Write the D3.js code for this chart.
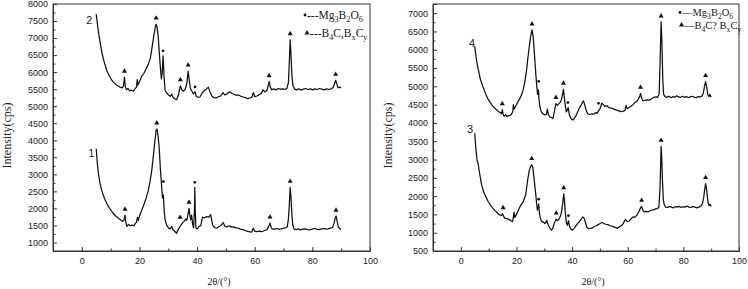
<!DOCTYPE html>
<html>
<head>
<meta charset="utf-8">
<script src="https://cdn.jsdelivr.net/npm/d3@7"></script>
<style>
  body { margin: 0; background: #fff; }
  svg { display: block; }
</style>
</head>
<body>
<div id="chart"></div>
<script>
// tick values
const xTicks = [0, 20, 40, 60, 80, 100];
const xMinorTicks = [-10, 10, 30, 50, 70, 90];
const yTicksLeft = [1000, 1500, 2000, 2500, 3000, 3500, 4000, 4500, 5000, 5500, 6000, 6500, 7000, 7500, 8000];
const yTicksRight = [500, 1000, 1500, 2000, 2500, 3000, 3500, 4000, 4500, 5000, 5500, 6000, 6500, 7000];

// left panel, upper curve (2)
const curve2 = [[5.0,7700],[5.5,7350],[6.0,7050],[6.5,6800],[7.0,6560],[7.5,6380],[8.0,6230],[8.7,6040],[9.5,5900],[10.2,5790],[11.0,5700],[11.8,5640],[12.5,5600],[13.3,5560],[14.0,5540],[14.4,5580],[14.8,5850],[15.1,5560],[15.5,5480],[16.0,5520],[16.6,5450],[17.2,5470],[17.9,5440],[18.5,5520],[19.0,5560],[19.2,5780],[19.5,5620],[20.2,5760],[20.8,5880],[21.5,5960],[22.2,6080],[23.0,6220],[23.8,6420],[24.5,6800],[25.0,7080],[25.5,7330],[25.8,7410],[26.1,7320],[26.5,7050],[26.9,6550],[27.3,6100],[27.6,5800],[27.9,6000],[28.2,6480],[28.5,5900],[28.9,5460],[29.5,5380],[30.1,5330],[30.7,5290],[31.2,5350],[31.6,5270],[32.2,5220],[32.9,5190],[33.5,5320],[34.2,5600],[34.7,5480],[35.2,5440],[35.8,5480],[36.4,5650],[36.9,6030],[37.3,5750],[37.7,5520],[38.2,5440],[38.7,5360],[39.3,5420],[39.7,5300],[40.3,5260],[41.0,5270],[41.7,5380],[42.5,5460],[43.2,5500],[43.9,5560],[44.5,5420],[45.1,5300],[45.8,5250],[46.6,5240],[47.4,5280],[48.2,5300],[49.0,5400],[49.6,5330],[50.4,5360],[51.2,5420],[52.0,5380],[52.8,5350],[53.6,5320],[54.4,5330],[55.2,5290],[56.0,5270],[56.8,5250],[57.6,5220],[58.3,5240],[59.0,5260],[59.5,5400],[60.0,5280],[60.8,5300],[61.6,5340],[62.3,5380],[62.9,5480],[63.5,5420],[64.2,5460],[64.7,5620],[65.0,5720],[65.4,5560],[65.9,5480],[66.6,5510],[67.4,5480],[68.2,5520],[69.0,5500],[69.8,5510],[70.5,5490],[71.2,5530],[71.7,5700],[72.0,6300],[72.3,6950],[72.6,6500],[72.9,5900],[73.3,5600],[73.8,5510],[74.5,5480],[75.3,5510],[76.1,5470],[76.9,5500],[77.7,5520],[78.5,5490],[79.3,5510],[80.1,5480],[80.9,5510],[81.7,5490],[82.5,5520],[83.3,5500],[84.1,5480],[84.9,5510],[85.7,5490],[86.5,5510],[87.2,5550],[87.7,5660],[88.1,5760],[88.5,5650],[88.9,5540],[89.4,5560],[90.0,5540]];

// left panel, lower curve (1)
const curve1 = [[5.0,3750],[5.4,3300],[5.8,3000],[6.3,2750],[6.8,2560],[7.4,2400],[8.1,2250],[8.8,2120],[9.6,2010],[10.4,1910],[11.2,1830],[12.0,1760],[12.7,1710],[13.5,1660],[14.2,1620],[14.6,1650],[15.0,1800],[15.3,1580],[15.6,1470],[16.2,1530],[16.8,1490],[17.4,1510],[18.0,1490],[18.6,1560],[19.0,1600],[19.3,1740],[19.6,1650],[20.2,1820],[20.8,1950],[21.5,2100],[22.3,2300],[23.0,2500],[23.7,2800],[24.3,3140],[24.9,3600],[25.4,4020],[25.8,4300],[26.1,4330],[26.5,4100],[26.9,3720],[27.3,3100],[27.7,2640],[28.0,2300],[28.3,2400],[28.6,1900],[28.9,1670],[29.5,1500],[30.1,1420],[30.6,1400],[31.2,1470],[31.6,1380],[32.2,1330],[32.9,1270],[33.4,1380],[34.1,1470],[34.8,1560],[35.5,1620],[36.0,1690],[36.4,1650],[36.8,1800],[37.2,2000],[37.5,1800],[37.8,1660],[38.1,1800],[38.5,1520],[38.8,1430],[39.1,2000],[39.2,2620],[39.35,2000],[39.6,1420],[40.1,1400],[40.7,1470],[41.3,1500],[41.9,1750],[42.5,1720],[43.3,1760],[44.0,1740],[44.7,1820],[45.1,1650],[45.4,1510],[46.1,1440],[46.8,1420],[47.5,1460],[48.3,1500],[49.1,1580],[49.6,1480],[50.3,1460],[51.1,1490],[51.9,1450],[52.6,1460],[53.4,1430],[54.2,1420],[54.9,1400],[55.7,1380],[56.5,1360],[57.2,1330],[58.0,1320],[58.9,1300],[59.5,1420],[60.0,1330],[60.8,1320],[61.6,1330],[62.3,1320],[62.9,1330],[63.6,1360],[64.3,1380],[64.9,1480],[65.3,1570],[65.7,1440],[66.1,1390],[66.9,1390],[67.7,1410],[68.5,1390],[69.3,1400],[70.1,1420],[70.8,1430],[71.3,1460],[71.7,1700],[72.0,2100],[72.3,2620],[72.6,2300],[72.9,1800],[73.2,1520],[73.6,1400],[74.3,1380],[75.1,1400],[75.9,1370],[76.7,1390],[77.5,1400],[78.3,1380],[79.1,1370],[79.9,1390],[80.7,1410],[81.5,1390],[82.3,1380],[83.1,1400],[83.9,1410],[84.7,1390],[85.5,1400],[86.3,1420],[87.0,1440],[87.5,1560],[88.0,1740],[88.3,1770],[88.6,1620],[89.0,1460],[89.5,1410],[90.0,1380]];

// right panel, upper curve (4)
const curve4 = [[5.0,6100],[5.5,5780],[6.0,5560],[6.5,5380],[7.0,5200],[7.6,5060],[8.2,4940],[8.9,4800],[9.6,4680],[10.3,4590],[11.0,4510],[11.7,4440],[12.4,4390],[13.1,4340],[13.7,4300],[14.3,4280],[14.6,4250],[14.9,4360],[15.2,4240],[15.6,4180],[16.1,4230],[16.6,4170],[17.2,4200],[17.8,4210],[18.3,4250],[18.7,4320],[18.9,4500],[19.2,4380],[19.8,4470],[20.4,4560],[21.1,4650],[21.8,4760],[22.4,4900],[23.0,5120],[23.6,5420],[24.1,5770],[24.6,6080],[25.1,6360],[25.6,6540],[26.0,6380],[26.4,5950],[26.9,5400],[27.3,5000],[27.6,4780],[27.9,4900],[28.1,4650],[28.4,4450],[28.9,4300],[29.5,4250],[30.1,4220],[30.7,4230],[31.1,4380],[31.5,4220],[32.0,4170],[32.6,4140],[33.1,4120],[33.6,4300],[34.2,4530],[34.7,4480],[35.2,4520],[35.7,4560],[36.2,4650],[36.6,4800],[36.9,4920],[37.2,4700],[37.5,4500],[37.9,4300],[38.3,4350],[38.6,4420],[39.0,4230],[39.6,4120],[40.2,4080],[40.8,4120],[41.4,4200],[42.0,4300],[42.6,4400],[43.2,4480],[43.7,4560],[44.1,4600],[44.6,4480],[45.0,4360],[45.6,4250],[46.3,4230],[47.0,4250],[47.7,4240],[48.4,4280],[49.0,4260],[49.5,4330],[50.1,4400],[50.7,4540],[51.2,4500],[51.8,4450],[52.5,4470],[53.2,4420],[53.9,4410],[54.6,4390],[55.3,4370],[56.0,4350],[56.8,4330],[57.6,4310],[58.4,4320],[59.0,4340],[59.4,4480],[59.8,4390],[60.5,4420],[61.2,4460],[61.9,4500],[62.6,4560],[63.2,4580],[63.8,4650],[64.3,4720],[64.6,4810],[65.0,4680],[65.5,4600],[66.2,4620],[67.0,4630],[67.8,4620],[68.6,4660],[69.4,4700],[70.2,4710],[70.8,4700],[71.3,4800],[71.7,5850],[72.0,6760],[72.3,6200],[72.6,5200],[72.9,4780],[73.4,4720],[74.1,4700],[74.8,4730],[75.5,4690],[76.2,4720],[76.9,4700],[77.6,4740],[78.3,4710],[79.0,4700],[79.7,4730],[80.4,4700],[81.1,4720],[81.8,4690],[82.5,4710],[83.2,4730],[83.9,4700],[84.6,4690],[85.3,4720],[86.0,4710],[86.7,4740],[87.2,4820],[87.6,5000],[88.0,5130],[88.4,4980],[88.8,4770],[89.2,4720],[89.5,4780],[90.0,4700]];

// right panel, lower curve (3)
const curve3 = [[5.0,3720],[5.4,3300],[5.8,3000],[6.3,2850],[6.9,2550],[7.5,2300],[8.2,2120],[9.0,1980],[9.8,1860],[10.6,1760],[11.4,1680],[12.2,1610],[12.9,1560],[13.5,1510],[14.1,1480],[14.6,1470],[15.0,1520],[15.3,1460],[15.8,1400],[16.4,1390],[17.0,1370],[17.6,1350],[18.2,1320],[18.6,1300],[18.9,1420],[19.1,1560],[19.4,1420],[20.0,1500],[20.6,1600],[21.2,1700],[21.8,1780],[22.4,1840],[22.9,1950],[23.3,2030],[23.7,2250],[24.1,2480],[24.6,2700],[25.0,2800],[25.5,2860],[25.9,2780],[26.3,2500],[26.8,2150],[27.2,1850],[27.5,1620],[27.8,1700],[28.0,1780],[28.2,1580],[28.5,1420],[29.0,1310],[29.6,1290],[30.2,1250],[30.6,1280],[30.9,1340],[31.2,1250],[31.8,1150],[32.3,1100],[32.6,1070],[33.0,1110],[33.6,1250],[34.2,1370],[34.6,1330],[35.1,1350],[35.6,1420],[36.1,1520],[36.6,1780],[37.0,2060],[37.3,1850],[37.6,1500],[38.0,1250],[38.3,1200],[38.7,1330],[39.0,1200],[39.5,1100],[40.1,1070],[40.7,1120],[41.3,1180],[42.0,1250],[42.6,1300],[43.2,1360],[43.8,1430],[44.3,1400],[44.8,1280],[45.3,1150],[45.9,1110],[46.6,1120],[47.3,1130],[48.0,1170],[48.7,1190],[49.4,1220],[50.1,1250],[50.8,1280],[51.5,1250],[52.2,1230],[52.9,1220],[53.6,1190],[54.3,1180],[55.0,1160],[55.7,1140],[56.3,1120],[57.0,1160],[57.7,1190],[58.3,1240],[58.9,1330],[59.3,1360],[59.8,1300],[60.5,1320],[61.2,1380],[61.9,1430],[62.5,1420],[63.2,1470],[63.7,1540],[64.2,1600],[64.6,1680],[65.0,1720],[65.4,1620],[65.9,1570],[66.6,1580],[67.3,1570],[68.0,1600],[68.7,1620],[69.4,1630],[70.1,1650],[70.7,1660],[71.2,1700],[71.6,2200],[71.85,2900],[72.0,3360],[72.2,3100],[72.5,2400],[72.8,1900],[73.1,1780],[73.6,1700],[74.3,1690],[75.0,1720],[75.7,1700],[76.4,1680],[77.1,1710],[77.8,1700],[78.5,1720],[79.2,1690],[79.9,1710],[80.6,1700],[81.3,1730],[82.0,1700],[82.7,1690],[83.4,1720],[84.1,1700],[84.8,1680],[85.5,1700],[86.2,1720],[86.8,1780],[87.3,1950],[87.7,2200],[88.0,2340],[88.4,2150],[88.8,1850],[89.2,1740],[89.6,1780],[90.0,1720]];

// phase marks: [2theta, kind]
const marks2 = [[14.8,"tri"],[25.8,"tri"],[28.2,"dot"],[34.2,"tri"],[36.9,"tri"],[39.3,"dot"],[65.0,"tri"],[72.3,"tri"],[88.1,"tri"]];
const marks1 = [[15.0,"tri"],[26.0,"tri"],[28.3,"dot"],[34.1,"tri"],[37.2,"tri"],[39.2,"dot"],[65.3,"tri"],[72.3,"tri"],[88.2,"tri"]];
const marks4 = [[14.9,"tri"],[25.6,"tri"],[28.0,"dot"],[34.2,"tri"],[36.9,"tri"],[38.5,"dot"],[49.5,"dot"],[64.6,"tri"],[72.0,"tri"],[88.0,"tri"]];
const marks3 = [[15.2,"tri"],[25.5,"tri"],[28.0,"dot"],[34.3,"tri"],[37.0,"tri"],[38.7,"dot"],[65.0,"tri"],[72.0,"tri"],[88.0,"tri"]];

// legend texts, "_" marks a subscript character
const legendLeft = [["dot", "---Mg_3B_2O_6"], ["tri", "---B_4C,B_xC_y"]];
const legendRight = [["dot", "\u2014Mg_3B_2O_6"], ["tri", "\u2014B_4C? B_xC_y"]];

const W = 748, H = 289;
const svg = d3.select("#chart").append("svg")
    .attr("width", W)
    .attr("height", H)
    .style("background", "#fff");

const sans = "'Liberation Sans', Arial, sans-serif";
const serif = "'Liberation Serif', 'Times New Roman', serif";
const TOP = 4, BOTTOM = 251;

function drawMark(g, kind, cx, cy) {
    if (kind === "tri") {
        g.append("path")
            .attr("d", d3.symbol(d3.symbolTriangle, 11)())
            .attr("transform", `translate(${cx},${cy})`)
            .attr("fill", "#111");
    } else {
        g.append("circle")
            .attr("cx", cx).attr("cy", cy).attr("r", 1.4)
            .attr("fill", "#111");
    }
}

function subText(sel, str, size) {
    // split into normal and subscript pieces
    let i = 0;
    while (i < str.length) {
        if (str[i] === "_") {
            sel.append("tspan").attr("dy", 3).attr("font-size", size * 0.72).text(str[i + 1]);
            i += 2;
            let j = i;
            while (j < str.length && str[j] !== "_") j++;
            if (j > i) sel.append("tspan").attr("dy", -3).text(str.slice(i, j));
            i = j;
        } else {
            let j = i;
            while (j < str.length && str[j] !== "_") j++;
            sel.append("tspan").text(str.slice(i, j));
            i = j;
        }
    }
}

function drawPanel(p) {
    const x = d3.scaleLinear().domain([-10, 100]).range([p.left, p.right]);
    const y = d3.scaleLinear().domain(p.yDomain).range([BOTTOM, TOP]);
    const g = svg.append("g");

    // frame
    g.append("rect")
        .attr("x", p.left).attr("y", TOP)
        .attr("width", p.right - p.left).attr("height", BOTTOM - TOP)
        .attr("fill", "none").attr("stroke", "#333").attr("stroke-width", 1);

    // x axis (ticks inside)
    const xa = g.append("g").attr("transform", `translate(0,${BOTTOM})`)
        .call(d3.axisBottom(x).tickValues(xTicks).tickSize(-4).tickPadding(7).tickFormat(d3.format("d")));
    const xm = g.append("g").attr("transform", `translate(0,${BOTTOM})`)
        .call(d3.axisBottom(x).tickValues(xMinorTicks).tickSize(-2.5));
    xm.select(".domain").remove();
    xm.selectAll("text").remove();

    // y axis
    const ya = g.append("g").attr("transform", `translate(${p.left},0)`)
        .call(d3.axisLeft(y).tickValues(p.yTicks).tickSize(-4).tickPadding(5).tickFormat(d3.format("d")));
    const ym = g.append("g").attr("transform", `translate(${p.left},0)`)
        .call(d3.axisLeft(y).tickValues(p.yTicks.map(v => v + 250).filter(v => v < p.yDomain[1])).tickSize(-2.5));
    ym.select(".domain").remove();
    ym.selectAll("text").remove();

    [xa, ya].forEach(a => {
        a.select(".domain").attr("stroke", "#333");
        a.selectAll("text").attr("font-family", sans).attr("font-size", 9).attr("fill", "#222");
    });
    g.selectAll(".tick line").attr("stroke", "#333");

    // curves
    const line = d3.line().x(d => x(d[0])).y(d => y(d[1]));
    p.curves.forEach(c => {
        g.append("path")
            .datum(c.data)
            .attr("d", line)
            .attr("fill", "none")
            .attr("stroke", "#111")
            .attr("stroke-width", 1.25)
            .attr("stroke-linejoin", "round");

        c.marks.forEach(([t, kind]) => {
            const near = c.data.filter(d => Math.abs(d[0] - t) <= 0.7);
            const top = d3.max(near, d => d[1]);
            drawMark(g, kind, x(t), y(top) - (kind === "tri" ? 6 : 5));
        });

        g.append("text")
            .attr("x", x(c.label[0])).attr("y", y(c.label[1]))
            .attr("font-family", sans).attr("font-size", 11).attr("fill", "#222")
            .text(c.name);
    });

    // legend
    p.legend.forEach(([kind, str], i) => {
        const L = p.legendPos[i];
        drawMark(g, kind, L.mx, L.my);
        const t = g.append("text")
            .attr("x", L.tx).attr("y", L.ty)
            .attr("font-family", serif).attr("font-size", p.legendSize).attr("fill", "#222");
        subText(t, str, p.legendSize);
    });

    // axis titles
    g.append("text")
        .attr("transform", `translate(${p.yTitleX},${(TOP + BOTTOM) / 2 + 8}) rotate(-90)`)
        .attr("text-anchor", "middle").attr("dy", "0.35em")
        .attr("font-family", serif).attr("font-size", 12).attr("fill", "#222")
        .text("Intensity(cps)");

    g.append("text")
        .attr("x", p.xTitleX).attr("y", 285)
        .attr("text-anchor", "middle")
        .attr("font-family", serif).attr("font-size", 10).attr("fill", "#222")
        .text("2\u03b8/(\u00b0)");
}

drawPanel({
    left: 53, right: 370,
    yDomain: [750, 8000], yTicks: yTicksLeft,
    curves: [
        { name: "2", data: curve2, marks: marks2, label: [1.5, 7420] },
        { name: "1", data: curve1, marks: marks1, label: [2.2, 3520] }
    ],
    legend: legendLeft, legendSize: 11.5,
    legendPos: [{ mx: 305, my: 15, tx: 307, ty: 19 }, { mx: 307, my: 33, tx: 310, ty: 37 }],
    yTitleX: 7, xTitleX: 219
});

drawPanel({
    left: 433, right: 739,
    yDomain: [500, 7250], yTicks: yTicksRight,
    curves: [
        { name: "4", data: curve4, marks: marks4, label: [2.9, 6080] },
        { name: "3", data: curve3, marks: marks3, label: [2.2, 3730] }
    ],
    legend: legendRight, legendSize: 10.5,
    legendPos: [{ mx: 680, my: 12.5, tx: 682, ty: 16 }, { mx: 681.5, my: 25, tx: 684, ty: 28.5 }],
    yTitleX: 388, xTitleX: 593
});
</script>
</body>
</html>
